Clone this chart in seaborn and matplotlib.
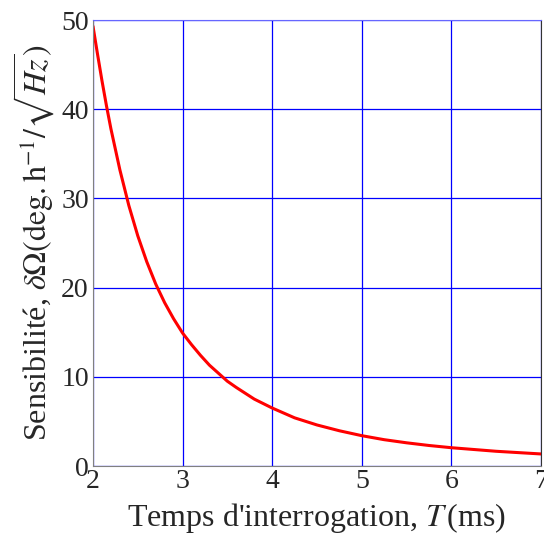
import matplotlib
matplotlib.use("Agg")
import matplotlib.pyplot as plt
import seaborn as sns
import pandas as pd

# valeurs
temps_ms = [2.0, 2.05, 2.1, 2.15, 2.2, 2.3, 2.4, 2.5, 2.6, 2.7, 2.8, 2.9, 3.0,
            3.1, 3.2, 3.3, 3.4, 3.5, 3.6, 3.8, 4.0, 4.25, 4.5, 4.75, 5.0,
            5.25, 5.5, 5.75, 6.0, 6.25, 6.5, 6.75, 7.0]
sensibilite = [49.3, 46.2, 43.2, 40.4, 37.8, 33.2, 29.2, 25.8, 22.9, 20.4, 18.3, 16.5, 14.9,
               13.6, 12.4, 11.3, 10.4, 9.5, 8.8, 7.5, 6.5, 5.4, 4.6, 3.95, 3.4,
               2.95, 2.6, 2.3, 2.05, 1.85, 1.65, 1.5, 1.35]
x_ticks = [2, 3, 4, 5, 6, 7]
y_ticks = [0, 10, 20, 30, 40, 50]

df = pd.DataFrame({"T": temps_ms, "S": sensibilite})

sns.set_style("white")
plt.rcParams['font.family'] = ['Liberation Serif', 'DejaVu Serif']
plt.rcParams['mathtext.fontset'] = 'stix'

fig = plt.figure(figsize=(5.44, 5.34), dpi=100)
ax = fig.add_axes([93 / 544, 68 / 534, 448 / 544, 446 / 534])

sns.lineplot(data=df, x="T", y="S", color="red", linewidth=2.2, ax=ax)

ax.set_xlim(2, 7)
ax.set_ylim(0, 50)
ax.set_xticks(x_ticks)
ax.set_yticks(y_ticks)
ax.grid(True, color="blue", linewidth=0.9)
ax.tick_params(labelsize=20, length=0)
ax.tick_params(axis="y", pad=3)
ax.tick_params(axis="x", pad=2)

ax.set_xlabel(r"Temps d'interrogation, $T\,$(ms)", fontsize=23, labelpad=5)
ax.set_ylabel(r"Sensibilité, $\delta\Omega(\mathrm{deg.h}^{-1}/\sqrt{Hz})$", fontsize=23, labelpad=3)

for side in ["left", "bottom"]:
    ax.spines[side].set_color("gray")
ax.spines["top"].set_color("#6666ff")
ax.spines["right"].set_color("#333333")

fig.savefig("out.png", dpi=100)
